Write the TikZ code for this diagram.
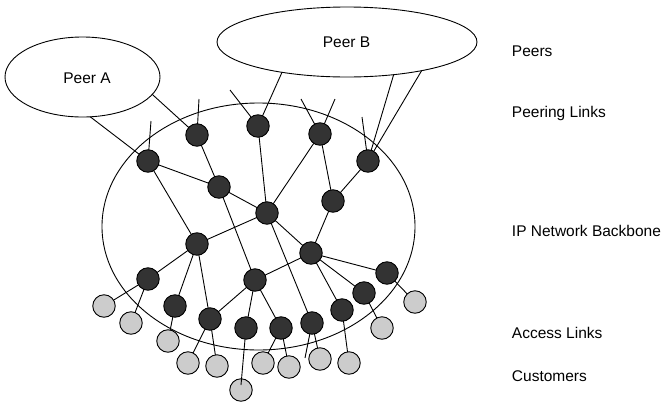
\documentclass[tikz,border=0pt]{standalone}
\usepackage{fontspec}
\setmainfont{Liberation Sans}
\usetikzlibrary{shapes.geometric}
\definecolor{routerfill}{HTML}{333333}
\definecolor{custfill}{HTML}{CCCCCC}
\begin{document}
\begin{tikzpicture}[x=1pt,y=-1pt,line width=0.9pt,
  router/.style={circle,draw=black,fill=routerfill,minimum size=22.5pt,inner sep=0pt,outer sep=0pt},
  cust/.style={circle,draw=black,fill=custfill,minimum size=22.5pt,inner sep=0pt,outer sep=0pt},
  cloud/.style={ellipse,draw=black,inner sep=0pt,outer sep=0pt},
  lbl/.style={anchor=base west,inner sep=0pt,font=\fontsize{15.5}{18}\selectfont},
  plbl/.style={anchor=base,inner sep=0pt,font=\fontsize{15.5}{18}\selectfont},
  link/.style={draw=black,line width=0.9pt}]
\useasboundingbox (0,0) rectangle (665,405);
% clouds
\node[cloud,minimum width=313pt,minimum height=247pt] (BB) at (258.5,226.5) {};
\node[cloud,minimum width=155pt,minimum height=80pt] (PA) at (82.5,77) {};
\node[cloud,minimum width=260pt,minimum height=70pt] (PB) at (347,42) {};
\node[plbl] (tPA) at (87,83) {Peer A};
\node[plbl] (tPB) at (346.5,47) {Peer B};
% right labels
\node[lbl] (l1) at (511.5,56) {Peers};
\node[lbl] (l2) at (511.5,117) {Peering Links};
\node[lbl] (l3) at (511.5,236) {IP Network Backbone};
\node[lbl] (l4) at (511.5,338) {Access Links};
\node[lbl] (l5) at (511.5,381) {Customers};
% stub end points
\coordinate (s1) at (151,121);
\coordinate (s2) at (199,99);
\coordinate (s3) at (230,90);
\coordinate (s4) at (301,99);
\coordinate (s5) at (335,99);
\coordinate (s6) at (362,117);
\coordinate (s7) at (305,358);
% routers
\node[router] (N1) at (148,161) {};
\node[router] (N2) at (197,135) {};
\node[router] (N3) at (258,126) {};
\node[router] (N4) at (320,134) {};
\node[router] (N5) at (368,161) {};
\node[router] (N6) at (219,187) {};
\node[router] (N7) at (267,213) {};
\node[router] (N8) at (333,201) {};
\node[router] (N9) at (197,244) {};
\node[router] (N10) at (311,253) {};
\node[router] (N11) at (148,279) {};
\node[router] (N12) at (255,280) {};
\node[router] (N13) at (387,273) {};
\node[router] (N14) at (364,293) {};
\node[router] (N15) at (175,306) {};
\node[router] (N16) at (210,319) {};
\node[router] (N17) at (246,328) {};
\node[router] (N18) at (281,328) {};
\node[router] (N19) at (312,323) {};
\node[router] (N20) at (342,310) {};
% customers
\node[cust] (G1) at (104,306) {};
\node[cust] (G2) at (131,323) {};
\node[cust] (G3) at (168,341) {};
\node[cust] (G4) at (188,363) {};
\node[cust] (G5) at (217,366) {};
\node[cust] (G6) at (241,390) {};
\node[cust] (G7) at (263,363) {};
\node[cust] (G8) at (289,367) {};
\node[cust] (G9) at (320,359) {};
\node[cust] (G10) at (349,363) {};
\node[cust] (G11) at (382,328) {};
\node[cust] (G12) at (415,302) {};
% peering links
\draw[link] (PA.-79) -- (N1);
\draw[link] (PA.-14.5) -- (N2);
\draw[link] (PB.-155.5) -- (N3);
\draw[link] (PB.-35.4) -- (N5);
\draw[link] (PB.-21) -- (N5);
\draw[link] (s1) -- (N1);
\draw[link] (s2) -- (N2);
\draw[link] (s3) -- (N3);
\draw[link] (s4) -- (N4);
\draw[link] (s5) -- (N4);
\draw[link] (s6) -- (N5);
% backbone
\draw[link] (N1) -- (N6);
\draw[link] (N1) -- (N9);
\draw[link] (N2) -- (N6);
\draw[link] (N6) -- (N7);
\draw[link] (N6) -- (N12);
\draw[link] (N3) -- (N7);
\draw[link] (N4) -- (N7);
\draw[link] (N4) -- (N8);
\draw[link] (N5) -- (N8);
\draw[link] (N8) -- (N10);
\draw[link] (N7) -- (N9);
\draw[link] (N7) -- (N10);
\draw[link] (N7) -- (N19);
\draw[link] (N9) -- (N11);
\draw[link] (N9) -- (N15);
\draw[link] (N9) -- (N16);
\draw[link] (N10) -- (N12);
\draw[link] (N10) -- (N13);
\draw[link] (N10) -- (N14);
\draw[link] (N10) -- (N20);
\draw[link] (N12) -- (N16);
\draw[link] (N12) -- (N17);
\draw[link] (N12) -- (N18);
% access links
\draw[link] (N11) -- (G1);
\draw[link] (N11) -- (G2);
\draw[link] (N13) -- (G12);
\draw[link] (N14) -- (G11);
\draw[link] (N15) -- (G3);
\draw[link] (N16) -- (G4);
\draw[link] (N16) -- (G5);
\draw[link] (N17) -- ([yshift=5pt]G6.center);
\draw[link] (N18) -- (G7);
\draw[link] (N18) -- (G8);
\draw[link] (N19) -- (G9);
\draw[link] (N20) -- (G10);
\draw[link] (N19) -- (s7);
\end{tikzpicture}
\end{document}
